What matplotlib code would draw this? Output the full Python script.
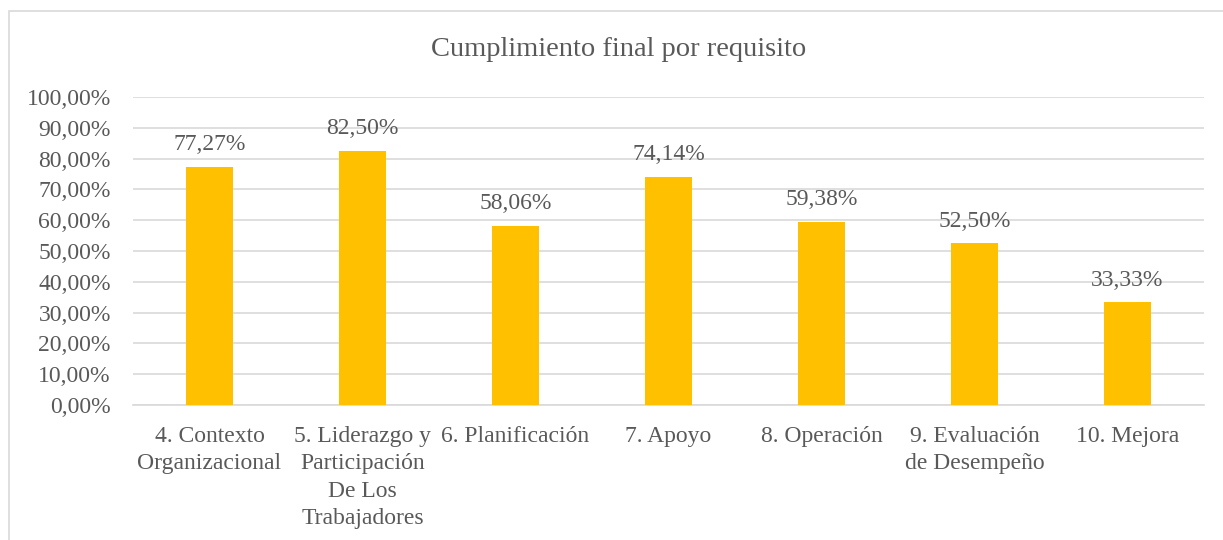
import numpy as np
import matplotlib.pyplot as plt
from matplotlib.patches import Rectangle

categorias = ["4. Contexto\nOrganizacional",
              "5. Liderazgo y\nParticipación\nDe Los\nTrabajadores",
              "6. Planificación",
              "7. Apoyo",
              "8. Operación",
              "9. Evaluación\nde Desempeño",
              "10. Mejora"]
cumplimiento = [77.27, 82.50, 58.06, 74.14, 59.38, 52.50, 33.33]
y_ticks = np.arange(0, 101, 10)

plt.rcParams['font.family'] = ['Liberation Serif', 'DejaVu Serif']
texto = '#595959'

W, H = 1223, 540
fig = plt.figure(figsize=(W/100, H/100), dpi=100)
ax = fig.add_axes([133/W, 1 - 405/H, (1204-133)/W, (405-97)/H])

# borde del grafico
fig.patches.append(Rectangle((9/W, -0.1), 1.2, 1 - 11/H + 0.1, transform=fig.transFigure,
                             fill=False, edgecolor='#D9D9D9', lw=1.2))

x = np.arange(len(categorias))
ax.bar(x, cumplimiento, width=0.31, color='#FFC000', zorder=3)
for xi, v in zip(x, cumplimiento):
    ax.annotate('{:.2f}%'.format(v).replace('.', ','), (xi, v), xytext=(0, 16),
                textcoords='offset points', ha='center', va='center',
                fontsize=17, color=texto)

ax.set_xlim(-0.5, len(categorias) - 0.5)
ax.set_ylim(0, 100)
ax.set_yticks(y_ticks)
ax.set_yticklabels(['{:.2f}%'.format(t).replace('.', ',') for t in y_ticks], fontsize=17, color=texto)
ax.set_xticks(x)
ax.set_xticklabels(categorias, fontsize=17, color=texto, linespacing=1.4, va='top')
ax.tick_params(axis='both', length=0)
ax.tick_params(axis='x', pad=15)
ax.tick_params(axis='y', pad=16)
ax.grid(axis='y', color='#D9D9D9', lw=1.2, zorder=0)
for s in ['top', 'right', 'left']:
    ax.spines[s].set_visible(False)
ax.spines['bottom'].set_color('#D9D9D9')
ax.spines['bottom'].set_linewidth(1.2)

fig.text(619/W, 1 - 50/H, 'Cumplimiento final por requisito', ha='center', va='center',
         fontsize=20.5, color=texto)

fig.savefig('out.png', dpi=100)
